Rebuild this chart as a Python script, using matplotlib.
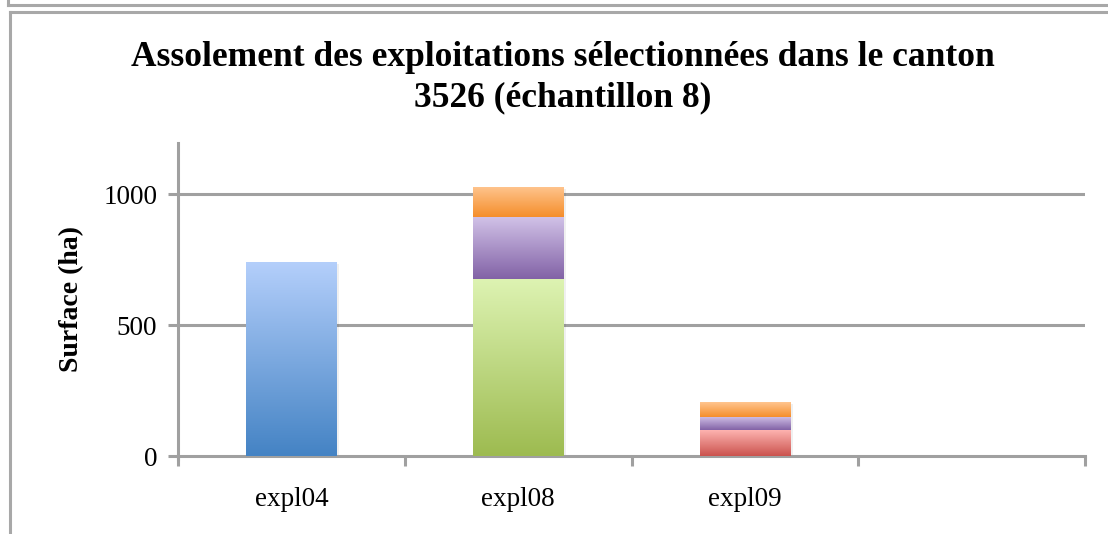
import numpy as np
import matplotlib.pyplot as plt
from matplotlib.colors import LinearSegmentedColormap
from matplotlib.lines import Line2D

# data (ha)
categories = ['expl04', 'expl08', 'expl09', '']
blue = [740, 0, 0, 0]
green = [0, 675, 0, 0]
red = [0, 0, 99, 0]
purple = [0, 237, 50, 0]
orange = [0, 115, 57, 0]

series = [blue, green, red, purple, orange]
# (top colour, bottom colour) of each gradient
grads = [('#B4CFFB', '#4483C4'),
         ('#DDF3B2', '#9DBB50'),
         ('#FDB3B0', '#CB534E'),
         ('#D2C3E8', '#8262A6'),
         ('#FFC58F', '#F58E2B')]

plt.rcParams['font.family'] = ['Liberation Serif', 'DejaVu Serif']

fig = plt.figure(figsize=(11.08, 5.34), dpi=100)
ax = fig.add_axes([178/1108, 1-456/534, (1085-178)/1108, (456-143)/534])

ymax = 1195
ax.set_xlim(0, len(categories))
ax.set_ylim(0, ymax)

x = np.arange(len(categories)) + 0.5
w = 0.4
bottom = np.zeros(len(categories))
grad = np.linspace(1, 0, 256).reshape(-1, 1)
for vals, (ctop, cbot) in zip(series, grads):
    vals = np.array(vals, dtype=float)
    cmap = LinearSegmentedColormap.from_list('g', [cbot, ctop])
    for xi, b, v in zip(x, bottom, vals):
        if v <= 0:
            continue
        # faint shadow
        ax.bar(xi + 0.012, v, w, bottom=b - 6, color='#000000', alpha=0.06,
               zorder=2, linewidth=0)
        rect = ax.bar(xi, v, w, bottom=b, color='none', zorder=3,
                      linewidth=0)[0]
        im = ax.imshow(grad, cmap=cmap, aspect='auto', zorder=3,
                       extent=[xi - w/2, xi + w/2, b, b + v])
        im.set_clip_path(rect)
    bottom += vals

ax.set_xlim(0, len(categories))
ax.set_ylim(0, ymax)

gc = '#A0A0A0'
for s in ['top', 'right']:
    ax.spines[s].set_visible(False)
for s in ['left', 'bottom']:
    ax.spines[s].set_color(gc)
    ax.spines[s].set_linewidth(2.2)
ax.spines['left'].set_bounds(-12, ymax)

ax.set_yticks([0, 500, 1000])
for yv in [500, 1000]:
    ax.axhline(yv, color=gc, lw=2.2, zorder=1)
ax.set_xticks(np.arange(len(categories) + 1))
ax.set_xticklabels([])
ax.set_xticks(x, minor=True)
ax.set_xticklabels(categories, minor=True)
ax.tick_params(axis='x', which='major', length=7, width=2.2, color=gc)
ax.tick_params(axis='x', which='minor', length=0, pad=22, labelsize=19.5)
ax.tick_params(axis='y', length=7, width=2.2, color=gc, pad=8, labelsize=19.5)

ax.set_ylabel('Surface (ha)', fontsize=20, fontweight='bold', labelpad=14)

fig.text(0.508, 1-57/534, 'Assolement des exploitations sélectionnées dans le canton',
         ha='center', va='center', fontsize=25.5, fontweight='bold')
fig.text(0.508, 1-98/534, '3526 (échantillon 8)',
         ha='center', va='center', fontsize=25.5, fontweight='bold')

# outer frames
fc = '#A8A8A8'
fig.add_artist(Line2D([8/1108, 8/1108], [1, 1-5/534], color=fc, lw=2.2,
                      transform=fig.transFigure))
fig.add_artist(Line2D([8/1108, 1], [1-5/534, 1-5/534], color=fc, lw=2.2,
                      transform=fig.transFigure))
fig.add_artist(Line2D([10/1108, 10/1108], [0, 1-12/534], color=fc, lw=2.2,
                      transform=fig.transFigure))
fig.add_artist(Line2D([10/1108, 1], [1-12/534, 1-12/534], color=fc, lw=2.2,
                      transform=fig.transFigure))

fig.savefig('out.png', dpi=100)
